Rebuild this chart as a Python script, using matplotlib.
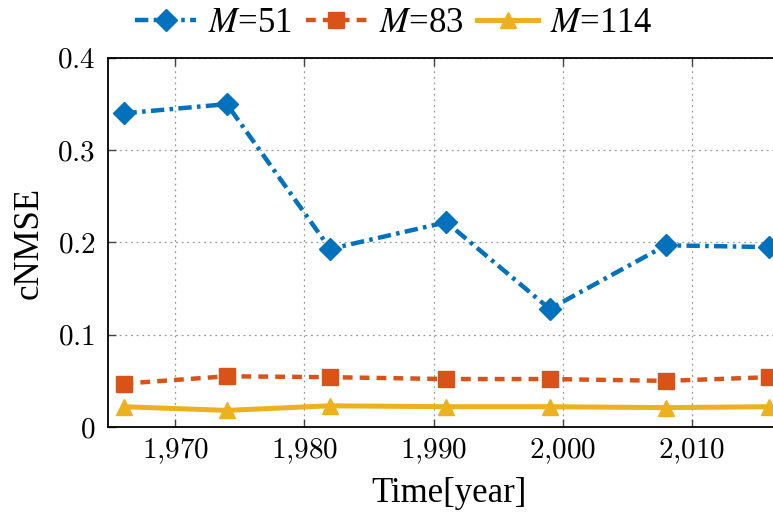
import matplotlib
matplotlib.use("Agg")
import matplotlib.pyplot as plt
from matplotlib.ticker import FuncFormatter, MultipleLocator
from matplotlib.font_manager import FontProperties

years = [1966, 1974, 1982, 1991, 1999, 2008, 2016]
m51 = [0.340, 0.350, 0.193, 0.222, 0.128, 0.197, 0.195]
m83 = [0.047, 0.055, 0.054, 0.052, 0.052, 0.050, 0.054]
m114 = [0.022, 0.018, 0.023, 0.022, 0.022, 0.021, 0.022]
labels = [r"$M$=51", r"$M$=83", r"$M$=114"]

plt.rcParams["mathtext.fontset"] = "cm"
plt.rcParams["font.family"] = ["Liberation Serif", "DejaVu Serif"]

fig = plt.figure(figsize=(7.73, 5.13), dpi=100)
W, H = 773, 513
ax = fig.add_axes([108 / W, (513 - 427) / H, (790 - 108) / W, (427 - 58) / H])

blue, orange, yellow = "#0072BD", "#D95319", "#EDB120"
ax.plot(years, m51, color=blue, lw=3.2, linestyle=(0, (3, 1.2, 0.8, 1.2)),
        marker="D", ms=11, label=labels[0], zorder=3)
ax.plot(years, m83, color=orange, lw=3.2, linestyle=(0, (2.2, 1.6)),
        marker="s", ms=12, label=labels[1], zorder=3)
ax.plot(years, m114, color=yellow, lw=3.6, linestyle="-",
        marker="^", ms=12, label=labels[2], zorder=3)

ax.set_xlim(1964.8, 2017.6)
ax.set_ylim(0, 0.4)
ax.xaxis.set_major_locator(MultipleLocator(10))
ax.yaxis.set_major_locator(MultipleLocator(0.1))
ax.xaxis.set_major_formatter(FuncFormatter(lambda v, p: r"$%d{,}%03d$" % (int(v) // 1000, int(v) % 1000)))
ax.yaxis.set_major_formatter(FuncFormatter(lambda v, p: "$0$" if abs(v) < 1e-9 else r"$%.1f$" % v))
ax.tick_params(direction="in", length=6, width=1, top=True, right=True,
               labelsize=21, colors="#444444", labelcolor="black")
ax.tick_params(axis="x", pad=7)
ax.tick_params(axis="y", pad=9)
ax.grid(True, linestyle=(0, (1.5, 3)), color="#999999", lw=0.9)
for s in ax.spines.values():
    s.set_linewidth(1.3)
    s.set_color("black")

ax.set_xlabel("Time[year]", fontsize=25, labelpad=8)
ax.set_ylabel("cNMSE", fontsize=25, labelpad=8)

legprop = FontProperties(family=["Liberation Serif", "DejaVu Serif"], size=25, math_fontfamily="stix")
fig.legend(loc="center", bbox_to_anchor=(394 / W, 1 - 24 / H), ncol=3, frameon=False,
           prop=legprop, handlelength=1.75, columnspacing=0.4, handletextpad=0.35,
           borderaxespad=0, borderpad=0)

fig.savefig("out.png", dpi=100)
